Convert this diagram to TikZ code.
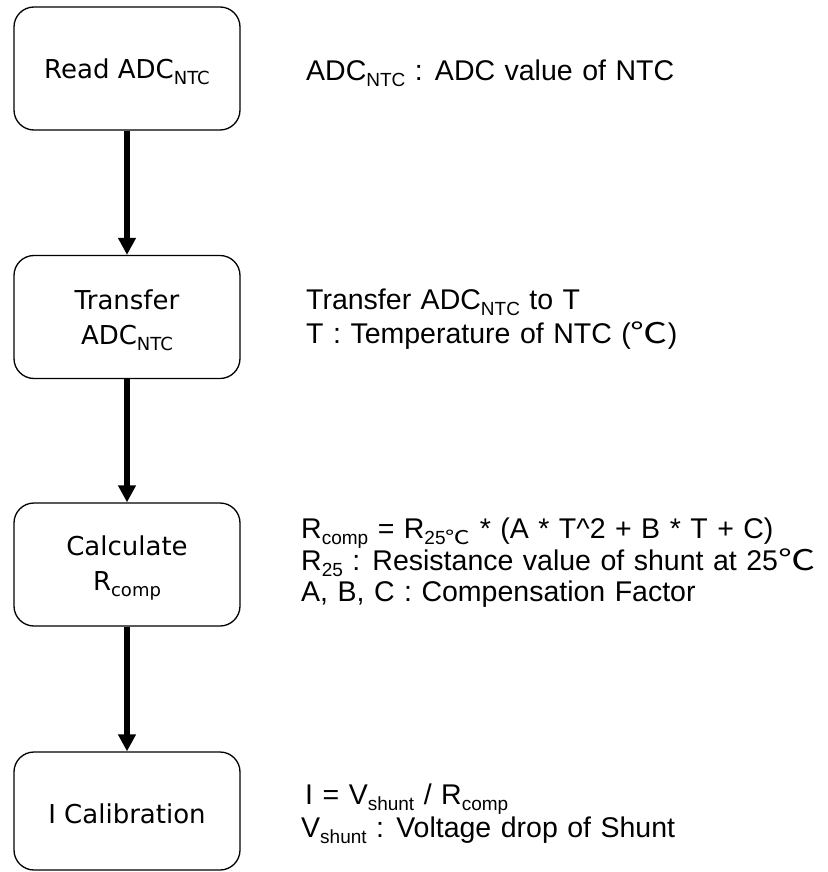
\documentclass[tikz,border=0pt]{standalone}
\usepackage{fontspec}
\setmainfont[WordSpace=1.2]{Liberation Sans}
\newfontfamily\boxfont{DejaVu Sans}
\newfontfamily\cjk[FakeStretch=1.3]{Noto Sans CJK KR}
\usetikzlibrary{arrows.meta}
\newcommand\bsub[1]{\raisebox{-6pt}{\fontsize{18}{18}\selectfont #1}}
\newcommand\tsub[1]{\raisebox{-6pt}{\fontsize{19}{19}\selectfont #1}}
\newcommand\degc{{\cjk ℃}}
\newcommand\bstrut{\rule[-1pt]{0pt}{27pt}}
\begin{document}
\begin{tikzpicture}[x=1pt,y=-1pt,
  stepbox/.style={draw, line width=1.3pt, rounded corners=20pt, minimum width=226pt,
    minimum height=123pt, align=center, inner sep=0pt,
    font=\boxfont\fontsize{26}{35}\selectfont},
  flow/.style={line width=5.5pt, -{Triangle[width=17pt,length=17pt]}},
  note/.style={anchor=base west, inner sep=0pt, font=\fontsize{28.5}{33}\selectfont}]
\useasboundingbox (0,0) rectangle (827,872);
\node[stepbox] (s1) at (127,68.5) {\bstrut Read ADC\bsub{NTC}};
\node[stepbox] (s2) at (127,317) {\bstrut Transfer\\\bstrut ADC\bsub{NTC}};
\node[stepbox] (s3) at (127,564.5) {\bstrut Calculate\\\bstrut R\bsub{comp}};
\node[stepbox, minimum height=118pt] (s4) at (127,811) {\bstrut I Calibration};
\draw[flow] (s1) -- (s2);
\draw[flow] (s2) -- (s3);
\draw[flow] (s3) -- (s4);
\node[note] (n1) at (306,81) {ADC\tsub{NTC} : ADC value of NTC};
\node[note] (n2a) at (306,309) {Transfer ADC\tsub{NTC} to T};
\node[note] (n2b) at (306,343) {T : Temperature of NTC (\degc)};
\node[note] (n3a) at (301,538) {R\tsub{comp} = R\tsub{25\degc} * (A * T\textasciicircum{}2 + B * T + C)};
\node[note] (n3b) at (301,570) {R\tsub{25} : Resistance value of shunt at 25\degc};
\node[note] (n3c) at (301,601) {A, B, C : Compensation Factor};
\node[note] (n4a) at (305,804) {I = V\tsub{shunt} / R\tsub{comp}};
\node[note] (n4b) at (301,837) {V\tsub{shunt} : Voltage drop of Shunt};
\end{tikzpicture}
\end{document}
